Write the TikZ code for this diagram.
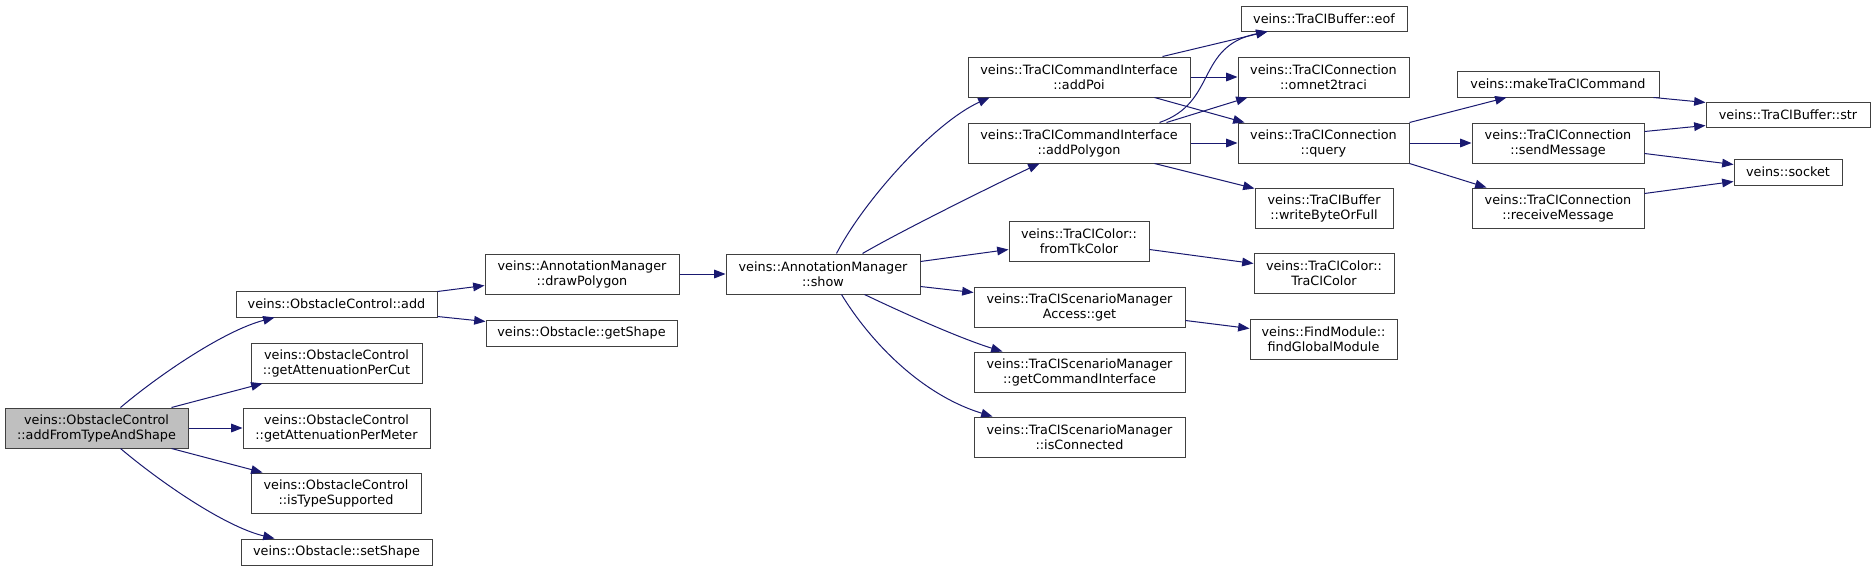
\documentclass[tikz,border=0pt]{standalone}
\usepackage{fontspec}
\setmainfont{DejaVu Sans}
\usetikzlibrary{arrows.meta,calc}
\definecolor{edgeblue}{HTML}{191970}
\definecolor{boxline}{HTML}{404040}
\definecolor{rootfill}{HTML}{BFBFBF}
\newcommand\bx[7][]{\node[box,#1,minimum width={(#4-#2)*0.75pt},minimum height={(#5-#3)*0.75pt}] (#6) at ({(#2+#4)/2},{(#3+#5)/2}) {#7};}
\begin{document}
\begin{tikzpicture}[x=0.75pt,y=-0.75pt,
  box/.style={draw=boxline,line width=0.75pt,fill=white,inner sep=0pt,align=center,
    font=\fontsize{9.6pt}{11.25pt}\selectfont},
  edge/.style={draw=edgeblue,line width=0.75pt,-{Triangle[length=8.5pt,width=6.5pt,fill=edgeblue]}}]
\useasboundingbox (0,0) rectangle (1875,571);
% nodes
\bx[fill=rootfill]{5}{408}{188}{448}{root}{veins::ObstacleControl\\::addFromTypeAndShape}
\bx{236}{291}{437}{317}{add}{veins::ObstacleControl::add}
\bx{251}{343}{422}{383}{cut}{veins::ObstacleControl\\::getAttenuationPerCut}
\bx{243}{408}{430}{448}{meter}{veins::ObstacleControl\\::getAttenuationPerMeter}
\bx{251}{473}{421}{513}{typ}{veins::ObstacleControl\\::isTypeSupported}
\bx{241}{539}{432}{565}{setsh}{veins::Obstacle::setShape}
\bx{485}{254}{679}{294}{drawp}{veins::AnnotationManager\\::drawPolygon}
\bx{486}{320}{677}{346}{gets}{veins::Obstacle::getShape}
\bx{726}{254}{920}{294}{show}{veins::AnnotationManager\\::show}
\bx{968}{57}{1190}{97}{poi}{veins::TraCICommandInterface\\::addPoi}
\bx{968}{123}{1190}{163}{poly}{veins::TraCICommandInterface\\::addPolygon}
\bx{1009}{221}{1149}{261}{tk}{veins::TraCIColor::\\fromTkColor}
\bx{974}{287}{1185}{327}{acc}{veins::TraCIScenarioManager\\Access::get}
\bx{974}{352}{1185}{392}{gci}{veins::TraCIScenarioManager\\::getCommandInterface}
\bx{974}{417}{1185}{457}{isc}{veins::TraCIScenarioManager\\::isConnected}
\bx{1241}{6}{1407}{31}{eof}{veins::TraCIBuffer::eof}
\bx{1238}{57}{1409}{97}{omn}{veins::TraCIConnection\\::omnet2traci}
\bx{1238}{123}{1409}{163}{qry}{veins::TraCIConnection\\::query}
\bx{1255}{188}{1393}{228}{wbf}{veins::TraCIBuffer\\::writeByteOrFull}
\bx{1254}{253}{1394}{293}{tcc}{veins::TraCIColor::\\TraCIColor}
\bx{1250}{319}{1397}{359}{fgm}{veins::FindModule::\\findGlobalModule}
\bx{1457}{71}{1659}{97}{mk}{veins::makeTraCICommand}
\bx{1472}{123}{1644}{163}{snd}{veins::TraCIConnection\\::sendMessage}
\bx{1472}{188}{1644}{228}{rcv}{veins::TraCIConnection\\::receiveMessage}
\bx{1706}{102}{1870}{127}{str}{veins::TraCIBuffer::str}
\bx{1734}{159}{1842}{185}{sock}{veins::socket}
% edges
\draw[edge] ($(root.north west)+(116,0)$) .. controls ($(root.north west)+(155,-33)$) and ($(add.south west)+(-11,13)$) .. ($(add.south west)+(39,0)$);
\draw[edge] ($(root.north west)+(167,0)$) -- ($(cut.south west)+(12,0)$);
\draw[edge] (root.east) -- (meter.west);
\draw[edge] ($(root.south west)+(167,0)$) -- ($(typ.north west)+(12,0)$);
\draw[edge] ($(root.south west)+(116,0)$) .. controls ($(root.south west)+(155,33)$) and ($(setsh.north west)+(-16,-12)$) .. ($(setsh.north west)+(34,0)$);
\draw[edge] ($(add.north east)+(0,1)$) -- ($(drawp.south west)+(0,-9)$);
\draw[edge] ($(add.south east)+(0,-1)$) -- ($(gets.north west)+(0,2)$);
\draw[edge] (drawp.east) -- (show.west);
\draw[edge] ($(show.north west)+(111,0)$) .. controls ($(show.north west)+(139,-54)$) and ($(poi.south west)+(-33,25)$) .. ($(poi.south west)+(22,0)$);
\draw[edge] ($(show.north west)+(137,0)$) .. controls ($(show.north west)+(180,-25)$) and ($(poly.south west)+(40,15)$) .. ($(poly.south west)+(72,0)$);
\draw[edge] ($(show.north east)+(0,8)$) -- ($(tk.north west)+(0,29)$);
\draw[edge] ($(show.north east)+(0,33)$) -- ($(acc.north west)+(0,6)$);
\draw[edge] ($(show.south west)+(139,0)$) .. controls ($(show.south west)+(185,22)$) and ($(gci.north west)+(-10,-12)$) .. ($(gci.north west)+(29,0)$);
\draw[edge] ($(show.south west)+(116,0)$) .. controls ($(show.south west)+(144,46)$) and ($(isc.north west)+(-53,-22)$) .. ($(isc.north west)+(19,0)$);
\draw[edge] ($(poi.north west)+(195,0)$) -- ($(eof.south west)+(27,0)$);
\draw[edge] (poi.east) -- (omn.west);
\draw[edge] ($(poi.south west)+(187,0)$) -- ($(qry.north west)+(7,0)$);
\draw[edge] ($(poly.north west)+(192,0)$) .. controls ($(poly.north west)+(250,-20)$) and ($(eof.south west)+(-45,15)$) .. ($(eof.south west)+(27,0)$);
\draw[edge] ($(poly.north west)+(199,0)$) -- ($(omn.south west)+(10,0)$);
\draw[edge] (poly.east) -- (qry.west);
\draw[edge] ($(poly.south west)+(187,0)$) -- ($(wbf.north west)+(0,1)$);
\draw[edge] (qry.north east) -- ($(mk.south west)+(50,0)$);
\draw[edge] (qry.east) -- (snd.west);
\draw[edge] (qry.south east) -- ($(rcv.north west)+(15,0)$);
\draw[edge] ($(mk.south east)+(-6,0)$) -- ($(str.north west)+(0,1)$);
\draw[edge] ($(snd.north east)+(0,9)$) -- ($(str.south west)+(0,-2)$);
\draw[edge] ($(snd.south east)+(0,-10)$) -- ($(sock.north west)+(0,6)$);
\draw[edge] ($(rcv.north east)+(0,6)$) -- ($(sock.south west)+(0,-4)$);
\draw[edge] ($(tk.north east)+(0,29)$) -- ($(tcc.north west)+(0,11)$);
\draw[edge] ($(acc.north east)+(0,34)$) -- ($(fgm.north west)+(0,10)$);
\end{tikzpicture}
\end{document}
